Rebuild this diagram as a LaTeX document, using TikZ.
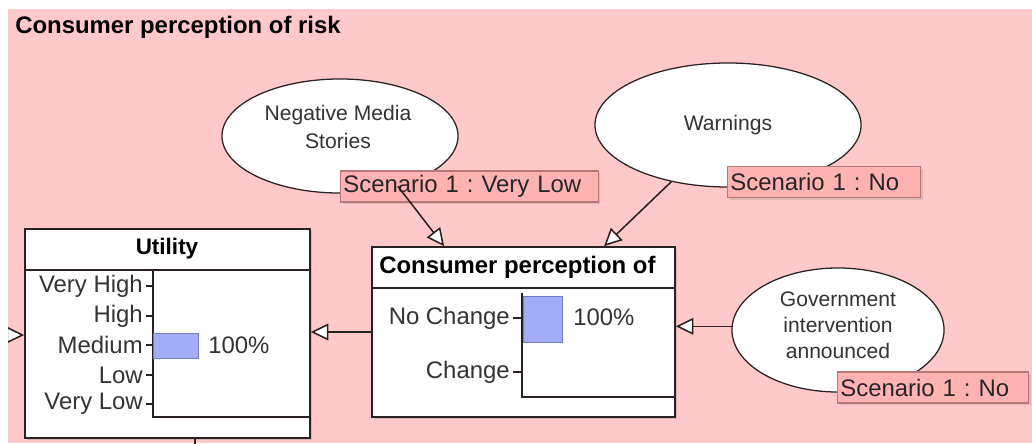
\documentclass[tikz,border=0pt]{standalone}
\usepackage{fontspec}
\setmainfont{Liberation Sans}
\usetikzlibrary{arrows.meta,positioning,calc,shapes.geometric,shadows}
\definecolor{BNPink}{HTML}{FFC9C9}
\definecolor{BNTag}{HTML}{FFB2B2}
\definecolor{BNTagLine}{HTML}{B87878}
\definecolor{BNBar}{HTML}{A3ADF7}
\definecolor{BNBarLine}{HTML}{6E7BC9}
\definecolor{BNInk}{HTML}{2A2222}
\definecolor{BNText}{HTML}{333333}
\frenchspacing

\tikzset{
  chance/.style={ellipse, draw=BNInk, line width=0.9pt, fill=white, inner sep=0pt},
  netbox/.style={rectangle, draw=BNInk, line width=1.2pt, fill=white, inner sep=0pt,
    drop shadow={shadow xshift=1.5pt, shadow yshift=-1.5pt, opacity=0.3}},
  scentag/.style={rectangle, draw=BNTagLine, line width=0.8pt, fill=BNTag, anchor=west,
    inner xsep=2pt, inner ysep=0pt, minimum height=0.775cm, align=left, text=black!85,
    drop shadow={shadow xshift=1.5pt, shadow yshift=-1.5pt, opacity=0.25}},
  link/.style={draw=BNInk, line width=1.1pt,
    -{Triangle[open, fill=white, length=12.5pt, width=12pt]}},
  statelbl/.style={anchor=east, inner sep=0pt, text=BNText},
  axisline/.style={draw=BNInk, line width=1pt},
  barfill/.style={draw=BNBarLine, fill=BNBar, line width=0.6pt}
}

\begin{document}
\begin{tikzpicture}[x=0.025cm,y=-0.025cm,font=\fontsize{17}{20}\selectfont]
    \useasboundingbox (0,0) rectangle (1032,443);
    \fill[BNPink] (8,9) rectangle (1032,443);
    \begin{scope}
    \clip (8,9) rectangle (1032,443);
    \node[anchor=west, inner sep=0pt, font=\bfseries\fontsize{17}{20}\selectfont] (title) at (15,27)
      {Consumer perception of risk};

    % chance nodes
    \node[chance, minimum width=5.9cm, minimum height=2.85cm] (neg) at (340,136) {};
    \node[align=center, text=BNText, font=\fontsize{15}{19.5}\selectfont] (negtxt) at (338,127)
      {Negative Media\\Stories};
    \node[chance, minimum width=6.65cm, minimum height=3.1cm, text=BNText,
      font=\fontsize{15}{19}\selectfont] (warn) at (728,125) {Warnings};
    \node[chance, minimum width=5.3cm, minimum height=3.1cm] (gov) at (838,330) {};
    \node[align=center, text=BNText, font=\fontsize{15}{18.5}\selectfont] (govtxt) at (838,325)
      {Government\\intervention\\announced};

    % scenario tags
    \node[scentag, text width=6.3cm] (negtag) at (340,186.5) {Scenario 1 : Very Low};
    \node[scentag, text width=4.68cm] (warntag) at (727,182) {Scenario 1 : No};
    \node[scentag, text width=4.63cm] (govtag) at (837,387.5) {Scenario 1 : No};

    % utility box
    \node[netbox, minimum width=7.125cm, minimum height=5.225cm] (util) at (167.5,333.5) {};
    \draw[axisline] (util.west |- 0,270) -- (util.east |- 0,270);
    \node[font=\bfseries\fontsize{16}{19}\selectfont] (utitle) at (167,249) {Utility};
    \foreach \s/\y [count=\i] in {Very High/286, High/316, Medium/345, Low/375, Very Low/404} {
      \node[statelbl] (ust\i) at (143,\y) {\s};
      \draw[axisline] (146,\y) -- (153,\y);
    }
    \draw[axisline] (153,270) -- (153,417) -- (util.east |- 0,417);
    \draw[barfill] (153,333) rectangle (198,358);
    \node[anchor=west, inner sep=0pt, text=BNText] (upct) at (208,345) {100\%};

    % consumer perception box
    \node[netbox, minimum width=7.575cm, minimum height=4.25cm] (cons) at (523.5,332) {};
    \draw[axisline] (cons.west |- 0,288) -- (cons.east |- 0,288);
    \node[anchor=west, inner sep=0pt, font=\bfseries\fontsize{17}{20}\selectfont] (ctitle)
      at (379,267) {Consumer perception of};
    \foreach \s/\y [count=\i] in {No Change/318, Change/372} {
      \node[statelbl] (cst\i) at (510,\y) {\s};
      \draw[axisline] (513,\y) -- (522,\y);
    }
    \draw[axisline] (522,293) -- (522,397) -- (cons.east |- 0,397);
    \draw[barfill] (523,296) rectangle (562,342);
    \node[anchor=west, inner sep=0pt, text=BNText] (cpct) at (573,317) {100\%};

    % links
    \draw[link] (neg.-41) -- ($(cons.north west)+(73,0)$);
    \draw[link] (warn.-135) -- ($(cons.north west)+(233,0)$);
    \draw[link] (gov.178) -- (gov.178 -| cons.east);
    \draw[link] (cons.west) -- (cons.west -| util.east);
    \coordinate (upstream) at (-6,335);
    \draw[link] (upstream) -- (upstream -| util.west);
    \coordinate (downstream) at (195,470);
    \draw[draw=BNInk, line width=1.1pt] (util.south -| downstream) -- (downstream);
    \end{scope}
\end{tikzpicture}
\end{document}
